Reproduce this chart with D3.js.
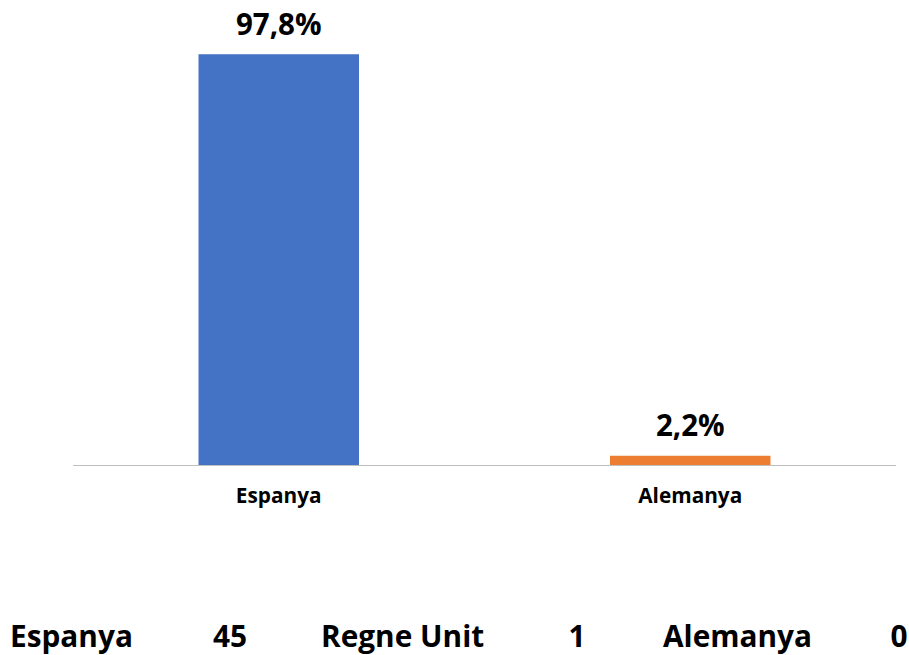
<!DOCTYPE html>
<html>
<head>
<meta charset="utf-8">
<script src="https://cdn.jsdelivr.net/npm/d3@7"></script>
<style>
  body { margin: 0; background: #fff; }
  svg { display: block; font-family: "Open Sans", sans-serif; }
</style>
</head>
<body>
<svg id="chart" width="909" height="655"></svg>
<script>
// chart data
const categories = ['Espanya', 'Alemanya'];
const shares = [97.8, 2.2];
const barColors = ['#4472C4', '#ED7D31'];

// table under the chart
const tableNames = ['Espanya', 'Regne Unit', 'Alemanya'];
const tableCounts = [45, 1, 0];

const svg = d3.select('#chart');
const left = 73, right = 896, baseY = 465;

const x = d3.scaleBand()
  .domain(categories)
  .range([left, right])
  .paddingInner(0.61)
  .paddingOuter(0.305);

const y = d3.scaleLinear()
  .domain([0, 100])
  .range([baseY, 45]);

const fmt = v => v.toFixed(1).replace('.', ',') + '%';

svg.selectAll('.bar')
  .data(categories)
  .enter().append('rect')
  .attr('class', 'bar')
  .attr('x', d => x(d))
  .attr('y', (d, i) => y(shares[i]))
  .attr('width', x.bandwidth())
  .attr('height', (d, i) => baseY - y(shares[i]))
  .attr('fill', (d, i) => barColors[i]);

// baseline
svg.append('line')
  .attr('x1', left).attr('x2', right)
  .attr('y1', baseY + 0.5).attr('y2', baseY + 0.5)
  .attr('stroke', '#bfbfbf')
  .attr('stroke-width', 1);

// value labels
svg.selectAll('.val')
  .data(categories)
  .enter().append('text')
  .attr('class', 'val')
  .attr('x', d => x(d) + x.bandwidth() / 2)
  .attr('y', (d, i) => y(shares[i]) - 19.5)
  .attr('text-anchor', 'middle')
  .attr('font-size', 29.5)
  .attr('font-weight', 'bold')
  .attr('fill', '#000')
  .text((d, i) => fmt(shares[i]));

// category labels
svg.selectAll('.cat')
  .data(categories)
  .enter().append('text')
  .attr('class', 'cat')
  .attr('x', d => x(d) + x.bandwidth() / 2)
  .attr('y', 503)
  .attr('text-anchor', 'middle')
  .attr('font-size', 20.8)
  .attr('font-weight', 'bold')
  .attr('fill', '#000')
  .text(d => d);

// bottom table row
const nameX = [10, 321, 663];
const countX = [230, 577, 899];
const row = svg.append('g').attr('font-size', 29.8).attr('font-weight', 'bold').attr('fill', '#000');
tableNames.forEach((n, i) => {
  row.append('text').attr('x', nameX[i]).attr('y', 647).text(n);
  row.append('text').attr('x', countX[i]).attr('y', 647).attr('text-anchor', 'middle').text(tableCounts[i]);
});
</script>
</body>
</html>
